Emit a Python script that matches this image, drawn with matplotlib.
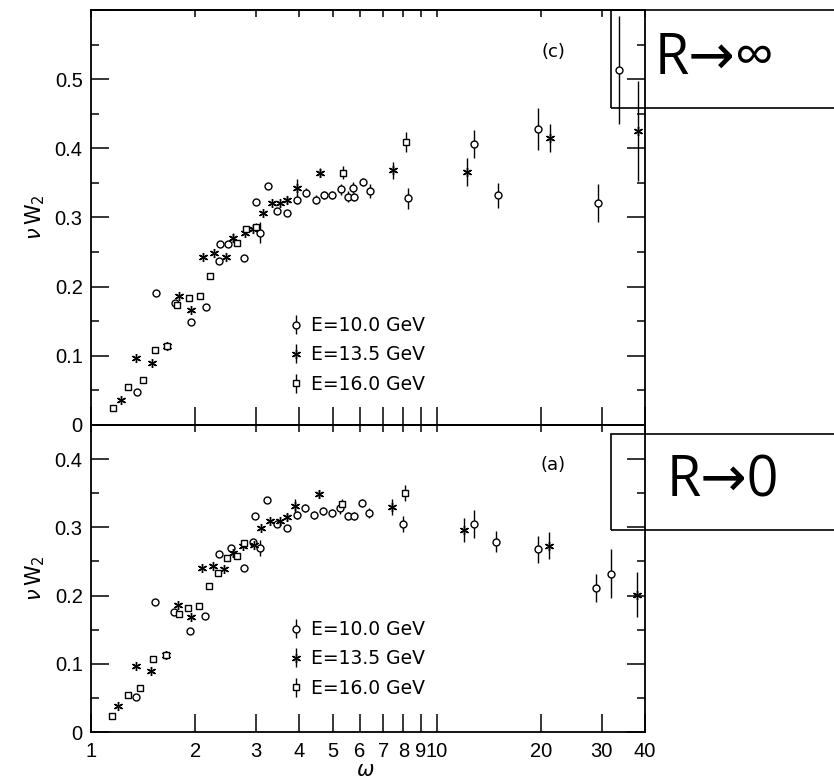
import matplotlib
matplotlib.use('Agg')
import matplotlib.pyplot as plt
from matplotlib.patches import Rectangle
from matplotlib.ticker import FixedLocator, NullLocator, MultipleLocator

plt.rcParams['font.family'] = ['DejaVu Sans']
plt.rcParams['mathtext.fontset'] = 'dejavusans'

# ---- panel (c): R -> infinity ----
c10_w = [1.36, 1.54, 1.75, 1.94, 2.15, 2.34, 2.36, 2.49, 2.77, 3.00, 3.08, 3.24, 3.45, 3.70,
         3.93, 4.18, 4.46, 4.71, 4.98, 5.27, 5.53, 5.71, 5.78, 6.10, 6.41, 8.25, 12.8, 15.0,
         19.6, 29.2, 33.7]
c10_v = [0.048, 0.191, 0.176, 0.149, 0.171, 0.237, 0.261, 0.261, 0.242, 0.322, 0.278, 0.346,
         0.310, 0.307, 0.326, 0.336, 0.326, 0.333, 0.333, 0.341, 0.330, 0.343, 0.330, 0.351,
         0.338, 0.328, 0.406, 0.332, 0.428, 0.321, 0.513]
c10_e = [0, 0, 0, 0, 0, 0, 0, 0, 0, 0, 0.015, 0, 0, 0,
         0.006, 0.006, 0.006, 0.006, 0.006, 0.008, 0.008, 0.008, 0.006, 0.006, 0.010, 0.015, 0.020, 0.018,
         0.030, 0.027, 0.078]

c13_w = [1.22, 1.35, 1.50, 1.66, 1.80, 1.94, 2.11, 2.27, 2.45, 2.57, 2.79, 2.95, 3.14, 3.33,
         3.52, 3.68, 3.93, 4.59, 7.46, 12.2, 21.3, 38.2]
c13_v = [0.036, 0.097, 0.090, 0.114, 0.186, 0.166, 0.243, 0.248, 0.243, 0.271, 0.277, 0.284,
         0.306, 0.321, 0.321, 0.325, 0.343, 0.365, 0.368, 0.366, 0.415, 0.425]
c13_e = [0, 0, 0, 0, 0, 0, 0, 0, 0, 0.006, 0, 0, 0, 0,
         0, 0.006, 0.012, 0.006, 0.012, 0.020, 0.020, 0.072]

c16_w = [1.158, 1.28, 1.41, 1.53, 1.66, 1.77, 1.92, 2.06, 2.21, 2.64, 2.80, 3.00, 5.35, 8.14]
c16_v = [0.025, 0.055, 0.065, 0.108, 0.114, 0.174, 0.184, 0.186, 0.215, 0.263, 0.283, 0.286,
         0.365, 0.409]
c16_e = [0, 0, 0, 0, 0, 0, 0, 0, 0, 0, 0, 0.006, 0.010, 0.015]

# ---- panel (a): R -> 0 ----
a10_w = [1.35, 1.53, 1.74, 1.93, 2.14, 2.34, 2.54, 2.77, 2.94, 3.08, 2.98, 3.22, 3.44, 3.68,
         3.93, 4.15, 4.41, 4.68, 4.97, 5.25, 5.52, 5.75, 6.06, 6.36, 8.0, 12.8, 14.8, 19.6,
         28.8, 31.8]
a10_v = [0.051, 0.191, 0.176, 0.148, 0.170, 0.261, 0.270, 0.240, 0.279, 0.270, 0.317, 0.340,
         0.305, 0.299, 0.318, 0.328, 0.318, 0.324, 0.321, 0.328, 0.317, 0.317, 0.336, 0.321,
         0.305, 0.305, 0.279, 0.268, 0.211, 0.232]
a10_e = [0, 0, 0, 0, 0, 0, 0, 0, 0, 0.012, 0, 0, 0, 0,
         0.006, 0.006, 0.006, 0.006, 0.006, 0.008, 0.006, 0.006, 0.006, 0.008, 0.012, 0.020, 0.015, 0.020,
         0.020, 0.036]

a13_w = [1.20, 1.35, 1.49, 1.65, 1.78, 1.94, 2.10, 2.26, 2.42, 2.58, 2.76, 2.96, 3.11, 3.30,
         3.52, 3.68, 3.88, 4.56, 7.41, 11.98, 21.1, 37.8]
a13_v = [0.038, 0.097, 0.089, 0.113, 0.186, 0.169, 0.240, 0.243, 0.239, 0.262, 0.272, 0.274,
         0.299, 0.309, 0.309, 0.315, 0.331, 0.349, 0.330, 0.296, 0.273, 0.201]
a13_e = [0, 0, 0, 0, 0, 0, 0, 0, 0, 0.006, 0, 0, 0, 0,
         0, 0.006, 0.010, 0.006, 0.012, 0.018, 0.020, 0.033]

a16_w = [1.15, 1.28, 1.39, 1.51, 1.65, 1.80, 1.91, 2.05, 2.19, 2.33, 2.48, 2.64, 2.77, 5.33, 8.1]
a16_v = [0.023, 0.054, 0.065, 0.107, 0.113, 0.173, 0.182, 0.185, 0.214, 0.233, 0.255, 0.258,
         0.277, 0.334, 0.350]
a16_e = [0, 0, 0, 0, 0, 0, 0, 0, 0, 0, 0, 0, 0, 0.008, 0.012]

labels = ['E=10.0 GeV', 'E=13.5 GeV', 'E=16.0 GeV']
STAR = (6, 2, 0)
markers = ['o', STAR, 's']
omega_ticks = [1, 2, 3, 4, 5, 6, 7, 8, 9, 10, 20, 30, 40]
omega_labels = ['1', '2', '3', '4', '5', '6', '7', '8', '9', '10', '20', '30', '40']
TICK_FONT = 'Liberation Sans'

W, H = 834, 779
fig = plt.figure(figsize=(W / 100, H / 100), dpi=100)
ax_c = fig.add_axes([91 / W, 1 - 425 / H, 554 / W, 415 / H])
ax_a = fig.add_axes([91 / W, 1 - 732 / H, 554 / W, 307 / H])


def draw_panel(ax, series, ymax, tag, leg_y):
    handles = []
    for (w, v, e), lab, m in zip(series, labels, markers):
        star = m == STAR
        h = ax.errorbar(w, v, yerr=e, fmt='', marker=m, linestyle='none',
                        mfc='black' if star else 'white', mec='black',
                        ms=6.5 if star else 5, mew=1.0, ecolor='black',
                        elinewidth=1.0, capsize=0, label=lab)
        handles.append(h)
    ax.set_xscale('log')
    ax.set_xlim(1, 40)
    ax.set_ylim(0, ymax)
    ax.xaxis.set_major_locator(FixedLocator(omega_ticks))
    ax.xaxis.set_minor_locator(NullLocator())
    ax.yaxis.set_major_locator(MultipleLocator(0.1))
    ax.yaxis.set_minor_locator(MultipleLocator(0.05))
    ax.tick_params(axis='x', which='major', direction='in', length=13, width=1.1,
                   top=False, labelsize=14.5, pad=7)
    ax.tick_params(axis='y', which='major', direction='in', length=13, width=1.1,
                   right=True, labelsize=14.5, pad=6)
    ax.tick_params(axis='y', which='minor', direction='in', length=6, width=1.1, right=True)
    top = ax.secondary_xaxis('top')
    top.set_xticks(omega_ticks)
    top.xaxis.set_minor_locator(NullLocator())
    top.tick_params(direction='in', length=5, width=1.1, labeltop=False)
    top.spines['top'].set_linewidth(1.3)
    for s in ax.spines.values():
        s.set_linewidth(1.3)
    ax.set_ylabel(r'$\nu\,\mathrm{W}_2$', fontsize=15)
    ax.yaxis.set_label_coords(-0.08, 0.5)
    ax.text(0.834, tag[1], tag[0], transform=ax.transAxes, fontsize=13,
            ha='center', va='center')
    ax.legend(handles=handles, loc='upper left', bbox_to_anchor=(0.336, leg_y),
              frameon=False, fontsize=13.5, handlelength=1.0, handletextpad=0.3,
              labelspacing=0.55, borderpad=0)


draw_panel(ax_c, [(c10_w, c10_v, c10_e), (c13_w, c13_v, c13_e), (c16_w, c16_v, c16_e)],
           0.6, ('(c)', 0.899), 0.285)
draw_panel(ax_a, [(a10_w, a10_v, a10_e), (a13_w, a13_v, a13_e), (a16_w, a16_v, a16_e)],
           0.45, ('(a)', 0.870), 0.395)

ax_c.set_yticks([0, 0.1, 0.2, 0.3, 0.4, 0.5, 0.6])
ax_c.set_yticklabels(['0', '0.1', '0.2', '0.3', '0.4', '0.5', ''])
ax_c.tick_params(axis='x', labelbottom=False)
ax_a.set_yticks([0, 0.1, 0.2, 0.3, 0.4])
ax_a.set_yticklabels(['0', '0.1', '0.2', '0.3', '0.4'])
ax_a.set_xticklabels(omega_labels)
for ax in (ax_c, ax_a):
    for lbl in ax.get_xticklabels() + ax.get_yticklabels():
        lbl.set_family(TICK_FONT)

fig.text(365 / W, 1 - 760 / H, r'$\omega$', fontsize=15, ha='center', va='top')

# annotation boxes on the right, drawn above the axes
box_font = ['Open Sans', 'DejaVu Sans']
for y_top, y_bot, txt, tx in [(10, 108, 'R→∞', 655), (434, 530, 'R→0', 667)]:
    fig.add_artist(Rectangle((611 / W, 1 - y_bot / H), 0.4, (y_bot - y_top) / H,
                             transform=fig.transFigure, fill=False,
                             edgecolor='black', linewidth=1.2, zorder=10))
    fig.text(tx / W, 1 - (y_top + y_bot) / 2 / H, txt, fontsize=40, family=box_font,
             ha='left', va='center', zorder=10)

fig.savefig('out.png', dpi=100)
